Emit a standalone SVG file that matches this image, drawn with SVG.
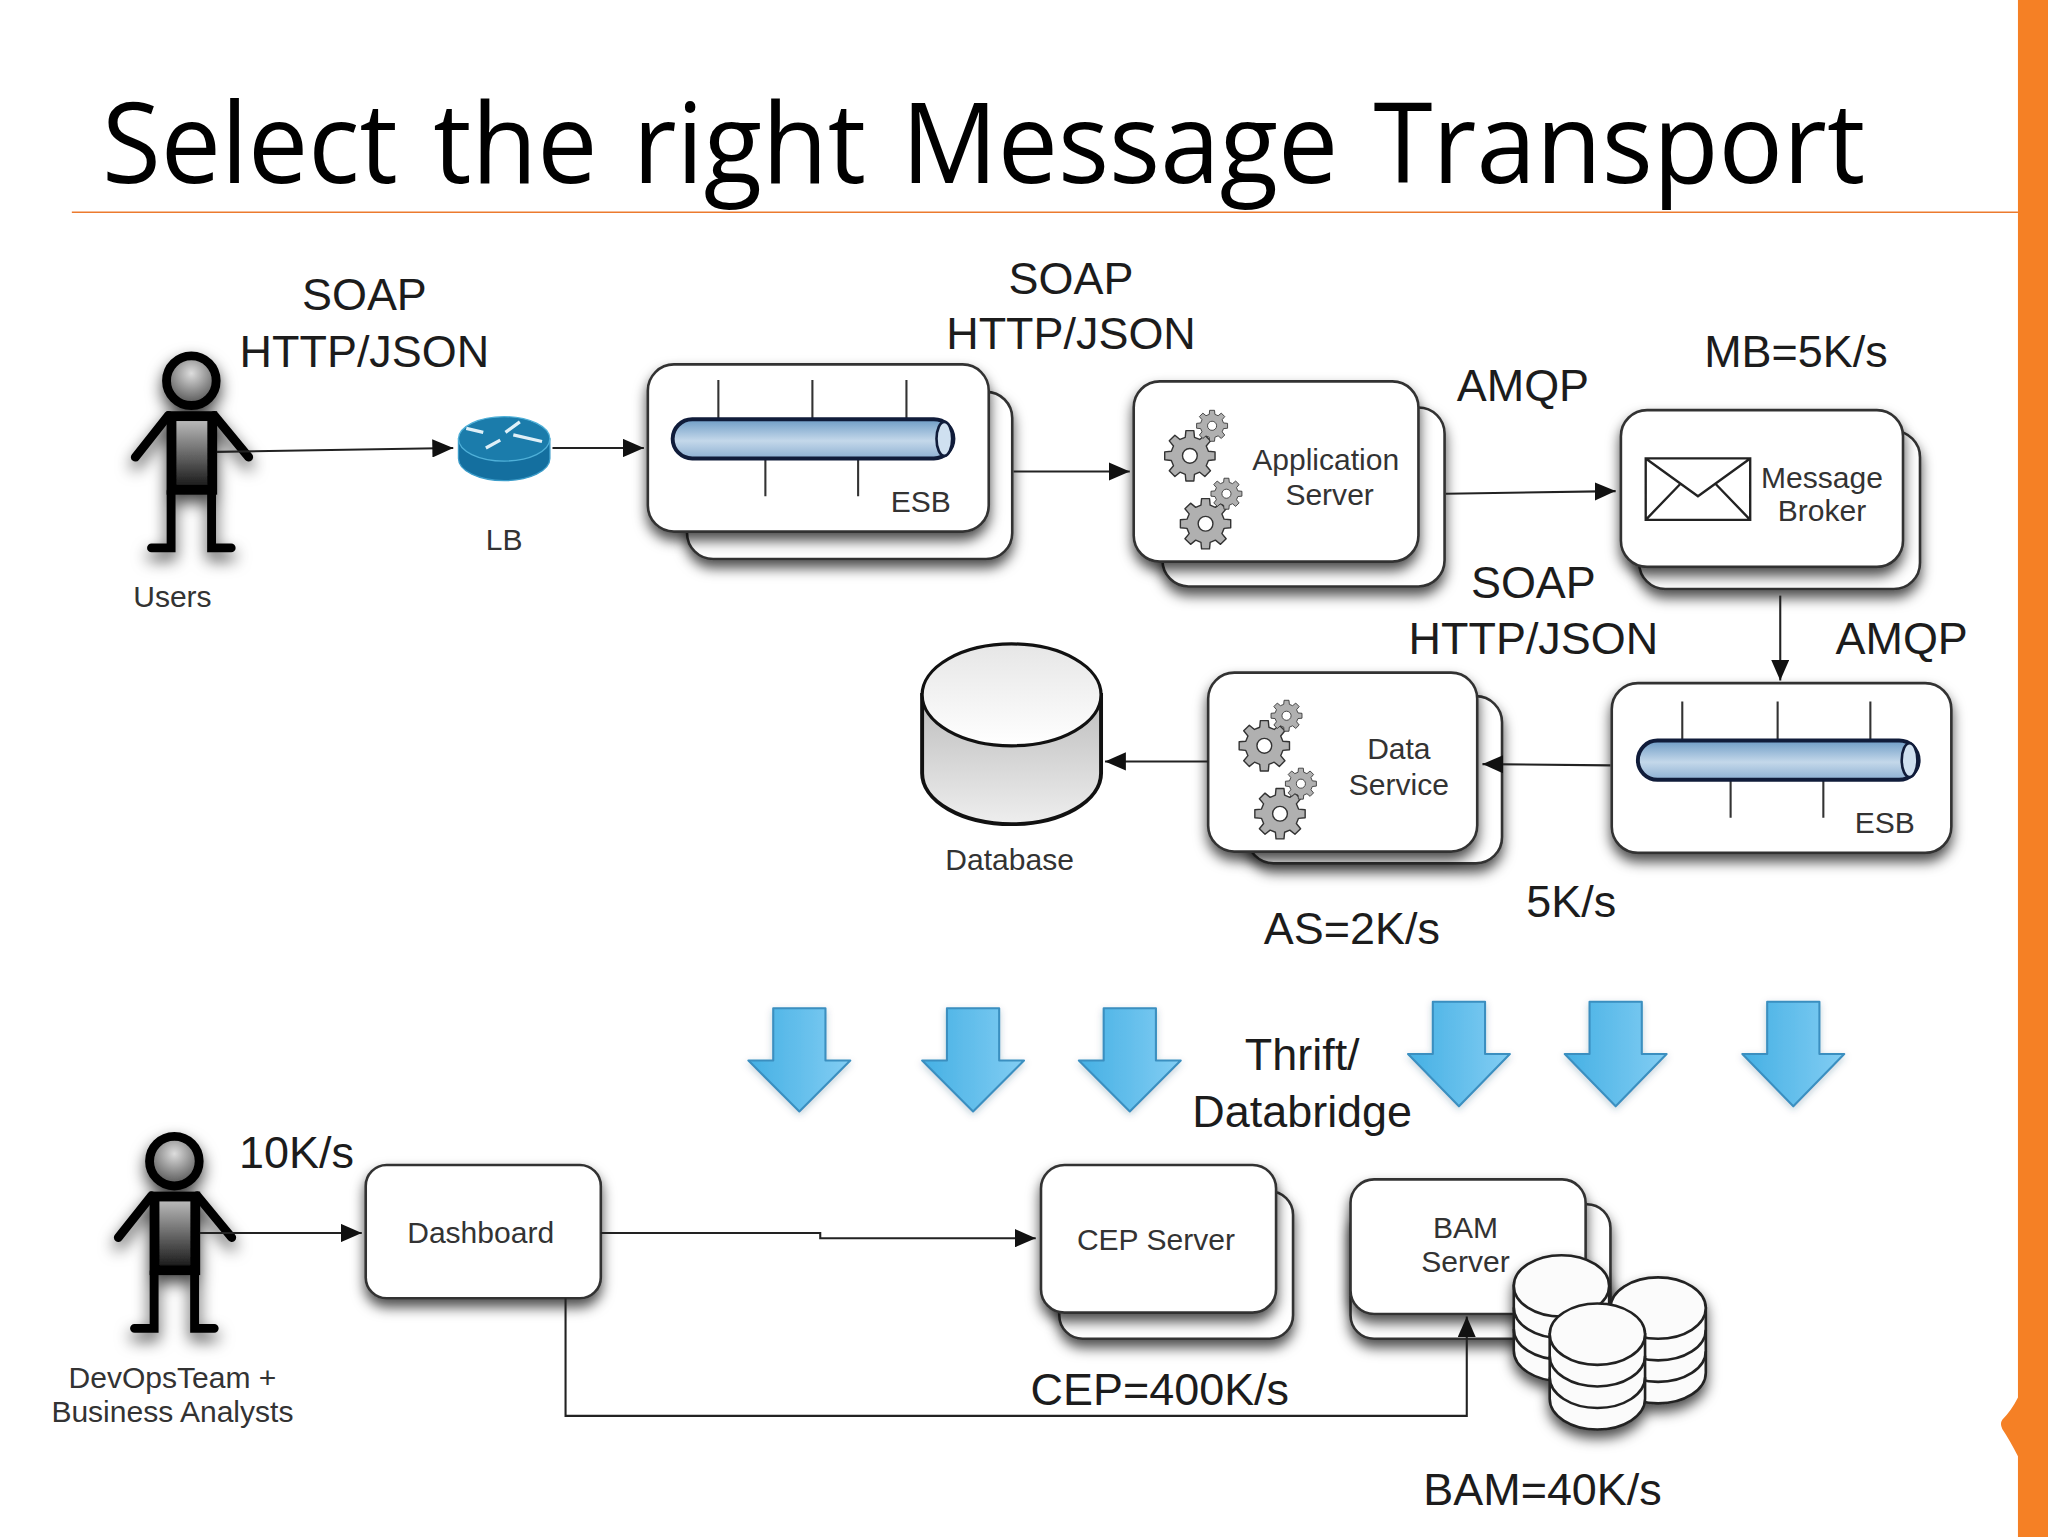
<svg xmlns="http://www.w3.org/2000/svg" xmlns:xlink="http://www.w3.org/1999/xlink" width="2048" height="1537" viewBox="0 0 2048 1537">
<style>
text{font-family:"Liberation Sans",Arial,sans-serif;fill:#1c1c1c;text-anchor:middle}
.s{font-size:23px;fill:#333}
.l{font-size:34.4px}
.title{font-family:"Open Sans","DejaVu Sans",sans-serif;font-size:86px;word-spacing:6px;fill:#000;text-anchor:start}
.card{fill:#fff;stroke:#333;stroke-width:2;filter:url(#sh)}
.con{fill:none;stroke:#222;stroke-width:1.6;marker-end:url(#ah)}
.tick{stroke:#333;stroke-width:1.6}
.tube{fill:url(#tubeG);stroke:#101c3a;stroke-width:3}
.tubeEnd{fill:#cfe0f0;stroke:#101c3a;stroke-width:2}
.blue{fill:url(#blueG);stroke:#3a8fc0;stroke-width:1.6;stroke-linejoin:round;filter:url(#shB)}
.dbk{fill:#fbfbfb;stroke:#222;stroke-width:2}
.pl{fill:none;stroke:#000;stroke-width:6.800;stroke-linecap:round}
</style>
<defs>
<filter id="sh" x="-20%" y="-20%" width="140%" height="150%"><feDropShadow dx="0" dy="6" stdDeviation="5" flood-color="#000" flood-opacity=".7"/></filter>
<filter id="shP" x="-30%" y="-20%" width="160%" height="140%"><feDropShadow dx="0" dy="6" stdDeviation="6" flood-color="#000" flood-opacity=".75"/></filter>
<filter id="shB" x="-20%" y="-20%" width="140%" height="140%"><feDropShadow dx="0" dy="2" stdDeviation="3" flood-color="#246" flood-opacity=".25"/></filter>
<linearGradient id="tubeG" x1="0" y1="0" x2="0" y2="1"><stop offset="0" stop-color="#6e9cc6"/><stop offset=".55" stop-color="#c4d8ea"/><stop offset="1" stop-color="#8db0d2"/></linearGradient>
<linearGradient id="blueG" x1="0" y1="0" x2="1" y2="0"><stop offset="0" stop-color="#45b0e4"/><stop offset="1" stop-color="#82cdf3"/></linearGradient>
<linearGradient id="bodyG" x1="0" y1="0" x2="0" y2="1"><stop offset="0" stop-color="#c4c4c4"/><stop offset="1" stop-color="#111"/></linearGradient>
<radialGradient id="headG" cx=".5" cy=".35" r=".7"><stop offset="0" stop-color="#ddd"/><stop offset="1" stop-color="#444"/></radialGradient>
<linearGradient id="dbTop" x1="0" y1="0" x2="0" y2="1"><stop offset="0" stop-color="#e6e6e6"/><stop offset="1" stop-color="#fff"/></linearGradient>
<linearGradient id="dbBody" x1="0" y1="0" x2="0" y2="1"><stop offset="0" stop-color="#bdbdbd"/><stop offset="1" stop-color="#eee"/></linearGradient>
<marker id="ah" markerUnits="userSpaceOnUse" markerWidth="18" markerHeight="14" refX="16" refY="7" orient="auto"><path d="M0 0L16 7L0 14Z" fill="#111"/></marker>
<g id="gear"><path d="M7.28-1.81L9.88-1.56L9.88 1.56L7.28 1.81L6.43 3.87L8.09 5.88L5.88 8.09L3.87 6.43L1.81 7.28L1.56 9.88L-1.56 9.88L-1.81 7.28L-3.87 6.43L-5.88 8.09L-8.09 5.88L-6.43 3.87L-7.28 1.81L-9.88 1.56L-9.88-1.56L-7.28-1.81L-6.43-3.87L-8.09-5.88L-5.88-8.09L-3.87-6.43L-1.81-7.28L-1.56-9.88L1.56-9.88L1.81-7.28L3.87-6.43L5.88-8.09L8.09-5.88L6.43-3.87Z" fill="#b0b0b0" stroke="#333" stroke-width=".55" stroke-linejoin="round"/><circle r="2.9" fill="#fff" stroke="#333" stroke-width=".55"/></g>
<g id="gears"><use xlink:href="#gear" href="#gear" transform="translate(0 0) scale(1.95)"/><use xlink:href="#gear" href="#gear" transform="translate(17 -23) scale(1.2)"/><use xlink:href="#gear" href="#gear" transform="translate(12 52) scale(1.95)"/><use xlink:href="#gear" href="#gear" transform="translate(28 29) scale(1.2)"/></g>
<g id="person"><g filter="url(#shP)"><path class="pl" d="M129 318L103.600 350M164 318L190.400 350M131 376V419.500H116M162 376V419.500H177"/><rect x="131.300" y="318.600" width="31.200" height="56.400" fill="url(#bodyG)" stroke="#000" stroke-width="7.500"/><circle cx="146.500" cy="291.500" r="19" fill="url(#headG)" stroke="#000" stroke-width="6.800"/></g></g>
<g id="disk"><path class="dbk" d="M-36.500 0V49.500A36.500 23.500 0 0 0 36.500 49.500V0Z"/><path class="dbk" d="M-36.500 16.500A36.500 23.500 0 0 0 36.500 16.500M-36.500 33A36.500 23.500 0 0 0 36.500 33" style="fill:none"/><ellipse rx="36.500" ry="23.500" class="dbk"/></g>
</defs>
<rect width="2048" height="1537" fill="#fff"/>
<g transform="scale(1.30612)">
<g id="chrome">
<path d="M1545 0H1568V1177H1545V1115Q1539 1103 1533 1094Q1531 1090 1533 1087Q1540 1080 1545 1070Z" fill="#f58025"/>
<path d="M55 162.500H1545" stroke="#ec7a2e" stroke-width="1.200"/>
<text class="title" x="78" y="140" textLength="1350" lengthAdjust="spacingAndGlyphs">Select the right Message Transport</text>
</g>
<g id="users"><use xlink:href="#person" href="#person"/><text class="s" x="132" y="465">Users</text></g>
<g id="lb">
<path d="M351 336V351A35 17 0 0 0 421 351V336Z" fill="#146f9f" stroke="#3b9cc9"/>
<ellipse cx="386" cy="336" rx="35" ry="17" fill="#1b7cab" stroke="#4fb0d8"/>
<path d="M357 328L370 331M398 323L387 331M372 343L383 337M415 338L393 333" stroke="#dff0f8" stroke-width="2.500" fill="none"/>
<text class="s" x="386" y="421">LB</text>
</g>
<g id="esb1">
<rect class="card" x="526" y="300" width="249" height="128" rx="20"/>
<rect class="card" x="496" y="279" width="261" height="128" rx="20"/>
<path class="tick" d="M550 291V320M622 291V320M694 291V320M586 351V380M657 351V380"/>
<rect class="tube" x="515" y="321" width="215" height="30" rx="15"/>
<ellipse class="tubeEnd" cx="723" cy="336" rx="6" ry="13"/>
<text class="s" x="705" y="392">ESB</text>
</g>
<g id="appserver">
<rect class="card" x="890" y="312" width="216" height="137" rx="20"/>
<rect class="card" x="868" y="292" width="218" height="138" rx="20"/>
<use xlink:href="#gears" href="#gears" transform="translate(911 349)"/>
<text class="s" x="1015" y="360">Application</text>
<text class="s" x="1018" y="387">Server</text>
</g>
<g id="broker">
<rect class="card" x="1255" y="330" width="215" height="121" rx="20"/>
<rect class="card" x="1241" y="314" width="216" height="120" rx="20"/>
<path d="M1260 351H1340V398H1260ZM1260 351L1300 380L1340 351M1260 398L1287 370M1340 398L1313 370" fill="#fff" stroke="#222" stroke-width="1.800"/>
<text class="s" x="1395" y="374">Message</text>
<text class="s" x="1395" y="399">Broker</text>
</g>
<g id="esb2">
<rect class="card" x="1234" y="523" width="260" height="130" rx="20"/>
<path class="tick" d="M1288 537V566M1361 537V566M1432 537V566M1325 597V626M1396 597V626"/>
<rect class="tube" x="1254" y="567" width="215" height="30" rx="15"/>
<ellipse class="tubeEnd" cx="1462" cy="582" rx="6" ry="13"/>
<text class="s" x="1443" y="638">ESB</text>
</g>
<g id="dataservice">
<rect class="card" x="955" y="533" width="195" height="128" rx="20"/>
<rect class="card" x="925" y="515" width="206" height="137" rx="20"/>
<use xlink:href="#gears" href="#gears" transform="translate(968 571)"/>
<text class="s" x="1071" y="581">Data</text>
<text class="s" x="1071" y="609">Service</text>
</g>
<g id="database">
<path d="M706 532V592A68.500 39 0 0 0 843 592V532Z" fill="url(#dbBody)" stroke="#111" stroke-width="3"/>
<ellipse cx="774.500" cy="532" rx="68.500" ry="39" fill="url(#dbTop)" stroke="#111" stroke-width="2.500"/>
<text class="s" x="773" y="666">Database</text>
</g>
<g id="stream-arrows">
<path class="blue" id="a1" d="M592 772H632V812H651L612 851L573 812H592Z"/>
<path class="blue" id="a2" d="M725 772H765V812H784L745 851L706 812H725Z"/>
<path class="blue" id="a3" d="M845 772H885V812H904L865 851L826 812H845Z"/>
<path class="blue" id="a4" d="M1097 767H1137V807H1156L1117 847L1078 807H1097Z"/>
<path class="blue" id="a5" d="M1217 767H1257V807H1276L1237 847L1198 807H1217Z"/>
<path class="blue" id="a6" d="M1353 767H1393V807H1412L1373 847L1334 807H1353Z"/>
</g>
<g id="devops"><use xlink:href="#person" href="#person" transform="translate(-13 597.500)"/><text class="s" x="132" y="1063">DevOpsTeam +</text><text class="s" x="132" y="1089">Business Analysts</text></g>
<g id="dashboard"><rect class="card" x="280" y="892" width="180" height="102" rx="16"/><text class="s" x="368" y="952">Dashboard</text></g>
<g id="cep">
<rect class="card" x="811" y="912" width="179" height="113" rx="18"/>
<rect class="card" x="797" y="892" width="180" height="113" rx="18"/>
<text class="s" x="885" y="957">CEP Server</text>
</g>
<g id="bam">
<rect class="card" x="1034" y="922" width="199" height="103" rx="18"/>
<rect class="card" x="1034" y="903" width="180" height="103" rx="18"/>
<text class="s" x="1122" y="948">BAM</text>
<text class="s" x="1122" y="974">Server</text>
</g>
<g id="connectors">
<path class="con" d="M166 346L347 343"/>
<path class="con" d="M423 343H493"/>
<path class="con" d="M776 361H865"/>
<path class="con" d="M1107 378L1237 376"/>
<path class="con" d="M1363 456V521"/>
<path class="con" d="M1233 586L1135 585"/>
<path class="con" d="M925 583H846"/>
<path class="con" d="M153 944H277"/>
<path class="con" d="M460 944H628V948H793"/>
<path class="con" d="M433 994V1084H1123V1008"/>
</g>
<g id="bam-storage" filter="url(#sh)">
<use xlink:href="#disk" href="#disk" transform="translate(1195.500 984.500)"/>
<use xlink:href="#disk" href="#disk" transform="translate(1269.500 1001.500)"/>
<use xlink:href="#disk" href="#disk" transform="translate(1223 1021.500)"/>
</g>
<g id="labels">
<text class="l" x="279" y="237">SOAP</text><text class="l" x="279" y="281">HTTP/JSON</text>
<text class="l" x="820" y="225">SOAP</text><text class="l" x="820" y="267">HTTP/JSON</text>
<text class="l" x="1166" y="307">AMQP</text>
<text class="l" x="1375" y="281">MB=5K/s</text>
<text class="l" x="1174" y="458">SOAP</text><text class="l" x="1174" y="501">HTTP/JSON</text>
<text class="l" x="1456" y="501">AMQP</text>
<text class="l" x="1203" y="702">5K/s</text>
<text class="l" x="1035" y="723">AS=2K/s</text>
<text class="l" x="997" y="819">Thrift/</text><text class="l" x="997" y="863">Databridge</text>
<text class="l" x="227" y="894">10K/s</text>
<text class="l" x="888" y="1076">CEP=400K/s</text>
<text class="l" x="1181" y="1152">BAM=40K/s</text>
</g>
</g>
</svg>
